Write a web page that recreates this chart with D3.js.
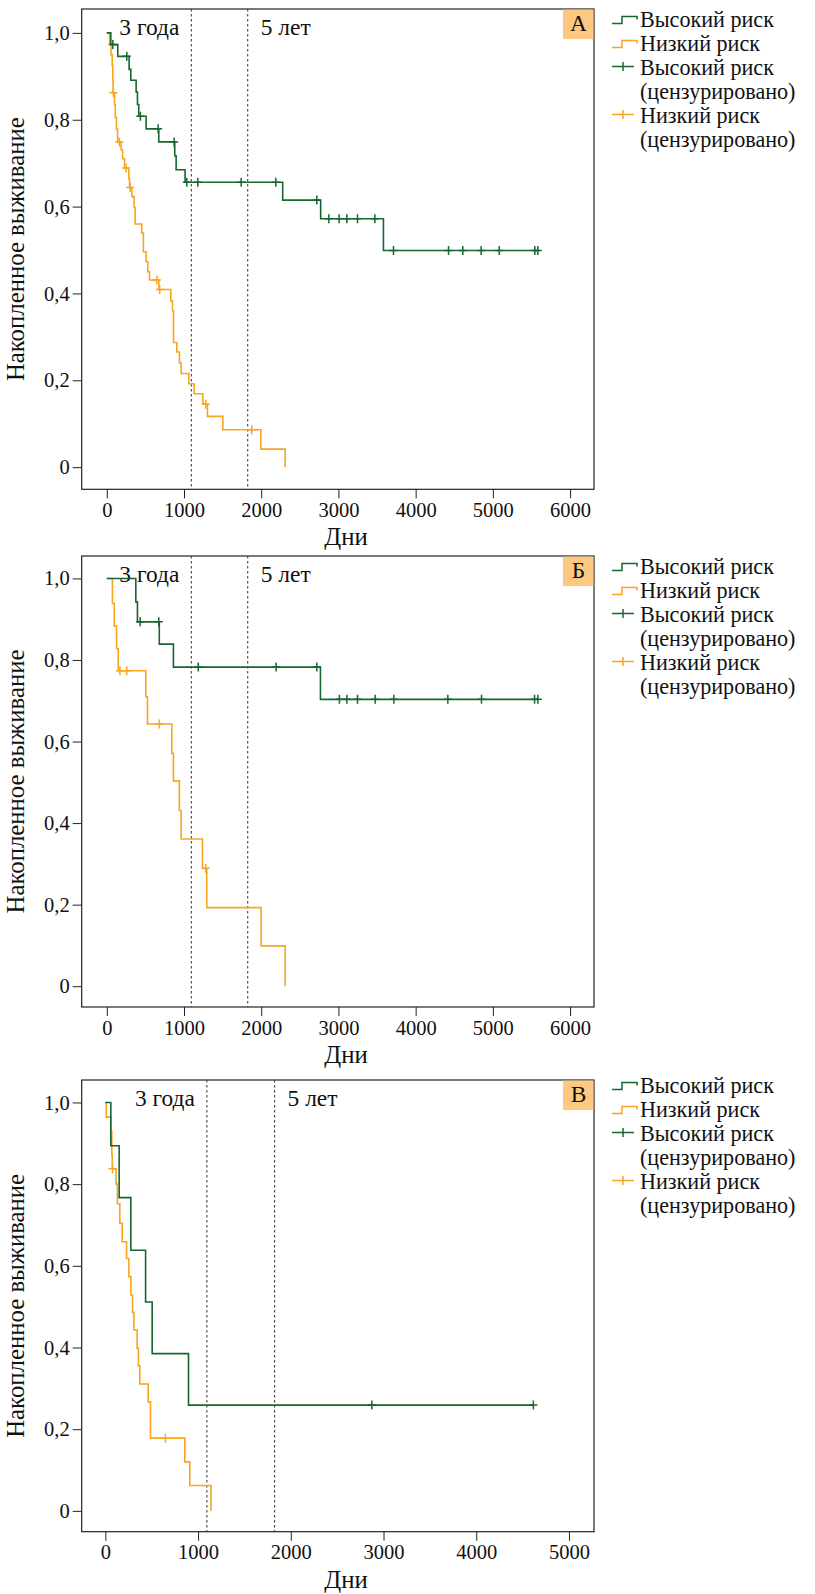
<!DOCTYPE html>
<html lang="ru">
<head>
<meta charset="UTF-8">
<title>Накопленное выживание</title>
<script src="https://d3js.org/d3.v7.min.js"></script>
<style>
  body { margin: 0; background: #fff; }
</style>
</head>
<body>
<script>
// ---- data ----
const panelLabels = ["А", "Б", "В"];
const yTickValues = [0, 0.2, 0.4, 0.6, 0.8, 1];
const yTickLabels = ["0", "0,2", "0,4", "0,6", "0,8", "1,0"];
const xTicksAB = [0, 1000, 2000, 3000, 4000, 5000, 6000];
const xTicksC = [0, 1000, 2000, 3000, 4000, 5000];
const markDays = [1095, 1825];
const markLabels = ["3 года", "5 лет"];
const legendLabels = ["Высокий риск", "Низкий риск", "Высокий риск", "(цензурировано)", "Низкий риск", "(цензурировано)"];

// panel А
const highTimesA = [52, 142, 289, 311, 380, 397, 414, 509, 673, 880, 898, 1014, 2278, 2770, 3583];
const highSurvA  = [0.973, 0.946, 0.916, 0.891, 0.864, 0.835, 0.808, 0.779, 0.749, 0.717, 0.685, 0.656, 0.615, 0.572, 0.499];
const highCensA  = [78, 259, 435, 665, 872, 1036, 1179, 1740, 2189, 2720, 2876, 3009, 3109, 3247, 3472, 3713, 4426, 4611, 4848, 5082, 5544, 5583];
const lowTimesA  = [35, 55, 70, 78, 82, 100, 110, 125, 140, 185, 205, 230, 285, 295, 324, 354, 367, 453, 474, 509, 531, 553, 675, 829, 851, 864, 907, 941, 963, 1062, 1131, 1244, 1304, 1503, 1995, 2310];
const lowSurvA   = [0.975, 0.95, 0.925, 0.89, 0.862, 0.835, 0.805, 0.778, 0.749, 0.731, 0.71, 0.689, 0.665, 0.644, 0.623, 0.598, 0.56, 0.539, 0.496, 0.473, 0.45, 0.431, 0.409, 0.383, 0.36, 0.287, 0.265, 0.24, 0.2155, 0.192, 0.169, 0.145, 0.117, 0.0863, 0.0415, 0];
const lowCensA   = [86, 163, 250, 302, 648, 685, 1282, 1878];

// panel Б
const highTimesB = [376, 397, 680, 863, 2767];
const highSurvB  = [0.9425, 0.8935, 0.839, 0.7826, 0.7035];
const highCensB  = [432, 673, 1185, 2193, 2720, 3013, 3109, 3247, 3476, 3718, 4417, 4853, 5540, 5583];
const lowTimesB  = [73, 97, 127, 148, 505, 527, 842, 863, 940, 963, 1239, 1295, 1999, 2310];
const lowSurvB   = [0.9385, 0.883, 0.828, 0.7736, 0.71, 0.643, 0.571, 0.5036, 0.431, 0.361, 0.289, 0.1927, 0.099, 0];
const lowCensB   = [170, 259, 681, 1282];

// panel В
const highTimesC = [59, 149, 275, 434, 505, 897];
const highSurvC  = [0.894, 0.767, 0.638, 0.5115, 0.385, 0.259];
const highCensC  = [2874, 4616];
const lowTimesC  = [10, 60, 70, 75, 115, 130, 156, 182, 229, 254, 275, 293, 308, 343, 357, 372, 462, 487, 857, 911, 1140];
const lowSurvC   = [0.964, 0.93, 0.87, 0.8375, 0.80, 0.752, 0.704, 0.659, 0.618, 0.5735, 0.5287, 0.486, 0.443, 0.398, 0.355, 0.3105, 0.267, 0.178, 0.12, 0.062, 0];
const lowCensC   = [78, 648];

// ---- layout ----
const W = 815, H = 1594;
const boxLeft = 81.7, boxRight = 594;
const greenCol = "#17662f", orangeCol = "#f8a51f";
const FONT = "'Liberation Serif', 'Times New Roman', serif";

const panels = [
  { label: panelLabels[0], top: 9, bottom: 489.3, xDomain: [-325, 6310], xTicks: xTicksAB, legendTop: 17.5,
    high: [highTimesA, highSurvA, highCensA], low: [lowTimesA, lowSurvA, lowCensA] },
  { label: panelLabels[1], top: 556, bottom: 1007, xDomain: [-325, 6310], xTicks: xTicksAB, legendTop: 17.5,
    high: [highTimesB, highSurvB, highCensB], low: [lowTimesB, lowSurvB, lowCensB] },
  { label: panelLabels[2], top: 1080, bottom: 1531.7, xDomain: [-255, 5270], xTicks: xTicksC, legendTop: 12.5,
    high: [highTimesC, highSurvC, highCensC], low: [lowTimesC, lowSurvC, lowCensC] }
];

const svg = d3.select("body").append("svg").attr("width", W).attr("height", H)
  .attr("font-family", FONT);

// pick a font size so a sample string gets the width seen in the picture
function fitSize(sample, width) {
  const t = svg.append("text").style("font-family", FONT).style("font-size", "20px").text(sample);
  const w = t.node().getComputedTextLength();
  t.remove();
  return 20 * width / w;
}
const tickSize = fitSize("1000", 41);
const markSize = fitSize("3 года", 60);
const legendSize = fitSize("Высокий риск", 134);
const titleSize = fitSize("Накопленное выживание", 264);

function txt(sel, size) {
  return sel.style("font-family", FONT).style("font-size", size + "px").attr("fill", "#111");
}

function survAt(times, surv, t) {
  let s = 1;
  for (let i = 0; i < times.length; i++) if (times[i] <= t) s = surv[i];
  return s;
}

panels.forEach(p => {
  const x = d3.scaleLinear().domain(p.xDomain).range([boxLeft, boxRight]);
  const y = d3.scaleLinear().domain([-0.051, 1.055]).range([p.bottom, p.top]);
  const g = svg.append("g");

  // axes
  const xa = g.append("g").attr("transform", `translate(0,${p.bottom})`)
    .call(d3.axisBottom(x).tickValues(p.xTicks).tickSize(9).tickPadding(4).tickFormat(d3.format("d")));
  const ya = g.append("g").attr("transform", `translate(${boxLeft},0)`)
    .call(d3.axisLeft(y).tickValues(yTickValues).tickSize(9).tickPadding(3)
      .tickFormat((d, i) => yTickLabels[i]));
  [xa, ya].forEach(a => {
    a.attr("font-family", FONT);
    a.select(".domain").remove();
    a.selectAll("line").attr("stroke", "#222");
    txt(a.selectAll("text"), tickSize);
  });

  g.append("rect").attr("x", boxLeft).attr("y", p.top)
    .attr("width", boxRight - boxLeft).attr("height", p.bottom - p.top)
    .attr("fill", "none").attr("stroke", "#222").attr("stroke-width", 1.2);

  // axis titles
  txt(g.append("text"), titleSize).attr("x", 346).attr("y", p.bottom + 56)
    .attr("text-anchor", "middle").text("Дни");
  txt(g.append("text"), titleSize).attr("transform", `translate(24,${(p.top + p.bottom) / 2}) rotate(-90)`)
    .attr("text-anchor", "middle").text("Накопленное выживание");

  // 3 / 5 year markers
  markDays.forEach((d, i) => {
    g.append("line").attr("x1", x(d)).attr("x2", x(d)).attr("y1", p.top).attr("y2", p.bottom)
      .attr("stroke", "#444").attr("stroke-width", 1.1).attr("stroke-dasharray", "2.5,2.5");
    txt(g.append("text"), markSize)
      .attr("x", i === 0 ? x(d) - 12 : x(d) + 13).attr("y", p.top + 26)
      .attr("text-anchor", i === 0 ? "end" : "start").text(markLabels[i]);
  });

  // curves
  const line = d3.line().x(d => x(d[0])).y(d => y(d[1])).curve(d3.curveStepAfter);
  [[p.low, orangeCol], [p.high, greenCol]].forEach(([s, col]) => {
    const [times, surv, cens] = s;
    const end = Math.max(times[times.length - 1], cens.length ? cens[cens.length - 1] : 0);
    const pts = [[0, 1]].concat(times.map((t, i) => [t, surv[i]]));
    if (end > times[times.length - 1]) pts.push([end, surv[surv.length - 1]]);
    g.append("path").attr("d", line(pts)).attr("fill", "none")
      .attr("stroke", col).attr("stroke-width", 1.6);
    cens.forEach(t => {
      const cx = x(t), cy = y(survAt(times, surv, t));
      g.append("path").attr("d", `M${cx - 4},${cy}H${cx + 4}M${cx},${cy - 4.5}V${cy + 4.5}`)
        .attr("stroke", col).attr("stroke-width", 1.5).attr("fill", "none");
    });
  });

  // panel letter
  g.append("rect").attr("x", boxRight - 31).attr("y", p.top + 0.6).attr("width", 30.4).attr("height", 29.5)
    .attr("fill", "#fdc980");
  txt(g.append("text"), markSize).attr("x", boxRight - 15.5).attr("y", p.top + 22)
    .attr("text-anchor", "middle").text(p.label);

  // legend
  const lx = 612, tx = 640;
  const iconCols = [greenCol, orangeCol, greenCol, null, orangeCol, null];
  legendLabels.forEach((lab, i) => {
    const b = p.top + p.legendTop + i * 24, c = iconCols[i];
    txt(g.append("text"), legendSize).attr("x", tx).attr("y", b).text(lab);
    if (!c) return;
    if (i < 2) {
      g.append("path").attr("d", `M${lx},${b - 3}H${lx + 10}V${b - 10}H${lx + 25}V${b - 7}`)
        .attr("stroke", c).attr("stroke-width", 1.5).attr("fill", "none");
    } else {
      g.append("path").attr("d", `M${lx},${b - 8}H${lx + 22}M${lx + 11},${b - 12.5}V${b - 3.5}`)
        .attr("stroke", c).attr("stroke-width", 1.5).attr("fill", "none");
    }
  });
});
</script>
</body>
</html>
